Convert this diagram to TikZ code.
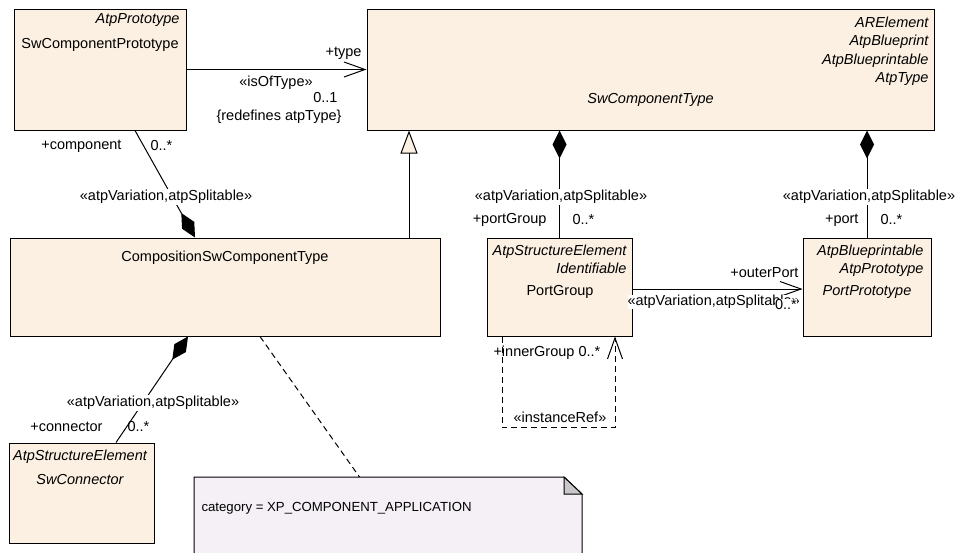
\documentclass[tikz,border=0pt]{standalone}
\usepackage{fontspec}
\setmainfont{Liberation Sans}
\usetikzlibrary{positioning}
\usetikzlibrary{arrows.meta}
\definecolor{clsfill}{RGB}{251,240,225}
\definecolor{notefill}{RGB}{245,240,245}
\definecolor{foldfill}{RGB}{200,200,200}
\newcommand{\umlfont}{\fontsize{14.5}{18.5}\selectfont}
\newcommand{\notefont}{\fontsize{13.2}{16}\selectfont}

\begin{document}
\begin{tikzpicture}[x = 1pt, y = -1pt, line width = 1pt, font = \umlfont,
		cls/.style = {draw, fill = clsfill, inner sep = 0pt},
		lbl/.style = {inner sep = 0pt},
		onwire/.style = {fill = white, inner sep = 1.5pt},
		stereo/.style = {lbl, font = \umlfont\itshape, align = right},
		assoc/.style = {-{Straight Barb[length = 21pt, width = 15pt]}},
		owns/.style = {{Diamond[length = 28pt, width = 14pt]}-},
		gen/.style = {-{Triangle[open, length = 23pt, width = 17pt, fill = clsfill]}},
		dep/.style = {dash pattern = on 6pt off 4pt}]
	\useasboundingbox (0, 0) rectangle (961, 552);
	\clip (0, 0) rectangle (961, 552);
	\fill [white] (0, 0) rectangle (961, 552);

	% classes
	\node [cls, minimum width = 172, minimum height = 121] (proto) at (100, 69.5) {};
	\node [cls, minimum width = 567, minimum height = 121] (swtype) at (650.5, 69.5) {};
	\node [cls, minimum width = 430, minimum height = 98] (compo) at (225, 287) {};
	\node [cls, minimum width = 145, minimum height = 98] (pgroup) at (559.5, 287) {};
	\node [cls, minimum width = 128, minimum height = 98] (pproto) at (867, 287) {};
	\node [cls, minimum width = 145, minimum height = 100] (conn) at (81.5, 493) {};

	\node [stereo, anchor = east] (proto-st) at (180, 20) {AtpPrototype};
	\node [lbl] (proto-name) at (100, 45) {SwComponentPrototype};
	\node [stereo, anchor = north east] (swtype-st) at (929, 16) {ARElement\\AtpBlueprint\\AtpBlueprintable\\AtpType};
	\node [stereo] (swtype-name) at (650.5, 100) {SwComponentType};
	\node [lbl] (compo-name) at (225, 258) {CompositionSwComponentType};
	\node [stereo, anchor = north east] (pgroup-st) at (627, 244) {AtpStructureElement\\Identifiable};
	\node [lbl] (pgroup-name) at (560, 292) {PortGroup};
	\node [stereo, anchor = north east] (pproto-st) at (924, 244) {AtpBlueprintable\\AtpPrototype};
	\node [stereo] (pproto-name) at (867, 292) {PortPrototype};
	\node [stereo] (conn-st) at (80, 457) {AtpStructureElement};
	\node [stereo] (conn-name) at (80, 479) {SwConnector};

	% note
	\node [inner sep = 0pt, minimum width = 387, minimum height = 100, anchor = north west] (note) at (194, 477) {};
	\draw [dep] ([xshift = 35pt]compo.south) -- ([xshift = -28.5pt]note.north);
	\draw [fill = notefill] (note.south west) -- (note.north west) -- ([xshift = -18pt]note.north east)
		-- ([yshift = -17pt]note.north east) -- (note.south east) -- cycle;
	\draw [fill = foldfill] ([xshift = -18pt]note.north east) -- ([xshift = -18pt, yshift = -17pt]note.north east)
		-- ([yshift = -17pt]note.north east) -- cycle;
	\node [lbl, anchor = west, font = \notefont] (note-text) at (201, 508) {category = XP\_COMPONENT\_APPLICATION};

	% relations
	\draw [assoc] (proto) -- (swtype);
	\node [lbl, anchor = east] (type-role) at (362, 53) {+type};
	\node [lbl] (type-st) at (276, 83) {«isOfType»};
	\node [lbl, anchor = east] (type-mult) at (338, 98) {0..1};
	\node [lbl, anchor = east] (type-note) at (342, 117) {\{redefines atpType\}};

	\coordinate (genfoot) at ([xshift = 184pt]compo.north);
	\draw [gen] (genfoot) -- (genfoot |- swtype.south);

	\draw [owns] ([xshift = -30pt]compo.north) -- ([xshift = 35pt]proto.south);
	\node [lbl, anchor = east] (comp-role) at (122, 146) {+component};
	\node [lbl, anchor = west] (comp-mult) at (150, 146) {0..*};
	\node [onwire] (comp-st) at (166, 197) {«atpVariation,atpSplitable»};

	\draw [owns] (swtype.south -| pgroup) -- (pgroup);
	\node [onwire] (pg-st) at (561, 197) {«atpVariation,atpSplitable»};
	\node [lbl, anchor = east] (pg-role) at (547, 220) {+portGroup};
	\node [lbl, anchor = west] (pg-mult) at (572, 220) {0..*};

	\draw [owns] (swtype.south -| pproto) -- (pproto);
	\node [onwire] (port-st) at (869, 197) {«atpVariation,atpSplitable»};
	\node [lbl, anchor = east] (port-role) at (859, 220) {+port};
	\node [lbl, anchor = west] (port-mult) at (880, 220) {0..*};

	\draw [assoc] ([yshift = -2pt]pgroup.east) -- ([yshift = -2pt]pproto.west);
	\node [lbl, anchor = east] (outer-role) at (799, 273) {+outerPort};
	\node [onwire, inner sep = 0pt, anchor = west] (outer-st) at (627, 302) {«atpVariation,atpSplitable»};
	\node [onwire, inner sep = 0.5pt, anchor = west] (outer-mult) at (774, 305) {0..*};

	\draw [dep, assoc] ([xshift = -57.5pt]pgroup.south) -- ++(0, 91) -| ([xshift = 55.5pt]pgroup.south);
	\node [lbl, anchor = west] (inner-role) at (493, 353) {+innerGroup 0..*};
	\node [lbl] (inner-st) at (560, 417) {«instanceRef»};

	\draw [owns] ([xshift = -37pt]compo.south) -- ([xshift = 34.5pt]conn.north);
	\node [onwire] (conn-rel) at (153, 403) {«atpVariation,atpSplitable»};
	\node [lbl, anchor = east] (conn-role) at (103, 427) {+connector};
	\node [lbl, anchor = west] (conn-mult) at (127, 427) {0..*};
\end{tikzpicture}
\end{document}
